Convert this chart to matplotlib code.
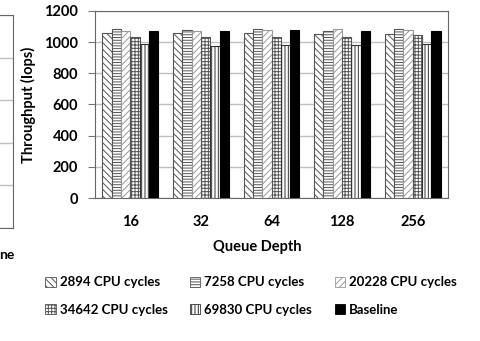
import numpy as np
import matplotlib.pyplot as plt
from matplotlib.patches import Patch

plt.rcParams['font.family'] = ['Lato', 'DejaVu Sans']
plt.rcParams['font.weight'] = 'bold'
plt.rcParams['hatch.linewidth'] = 0.7

depths = ['16', '32', '64', '128', '256']
labels = ['2894 CPU cycles', '7258 CPU cycles', '20228 CPU cycles',
          '34642 CPU cycles', '69830 CPU cycles', 'Baseline']

cyc_2894 = [1057, 1057, 1057, 1052, 1052]
cyc_7258 = [1082, 1076, 1082, 1070, 1082]
cyc_20228 = [1074, 1070, 1078, 1084, 1078]
cyc_34642 = [1031, 1031, 1031, 1031, 1044]
cyc_69830 = [988, 975, 982, 982, 988]
baseline = [1074, 1074, 1078, 1074, 1070]

series = [cyc_2894, cyc_7258, cyc_20228, cyc_34642, cyc_69830, baseline]
hatches = ['\\\\\\\\\\', '------', '/////', '+++++', '|||||', None]
faces = ['white'] * 5 + ['black']
edges = ['#555555', '#555555', '#999999', '#555555', '#333333', 'black']

W, H = 480, 341
fig = plt.figure(figsize=(W / 100, H / 100), dpi=100)

def px_axes(x0, y0, x1, y1):
    # axes placed by pixel box (top-left origin)
    return fig.add_axes([x0 / W, 1 - y1 / H, (x1 - x0) / W, (y1 - y0) / H])

# neighbouring panel cut off at the left edge
left = px_axes(-120, 15, 13, 228)
left.set_xlim(0, 1)
left.set_ylim(0, 5)
left.set_yticks(np.arange(0, 6))
left.grid(axis='y', color='#bfbfbf', linewidth=1)
left.tick_params(left=False, bottom=False, labelleft=False, labelbottom=False)
for s in left.spines.values():
    s.set_color('#666666')
fig.text(14 / W, 1 - 255 / H, 'ne', ha='right', va='center', fontsize=10, fontweight='bold')

ax = px_axes(95, 11, 448, 198)
x = np.arange(len(depths))
w = 0.132
for j, vals in enumerate(series):
    ax.bar(x + (j - 2.5) * w, vals, width=w, color=faces[j], edgecolor=edges[j],
           hatch=hatches[j], linewidth=0.8, zorder=3)

ax.set_xlim(-0.5, len(depths) - 0.5)
ax.set_ylim(0, 1200)
ax.set_yticks(np.arange(0, 1201, 200))
ax.set_xticks(x)
ax.set_xticklabels(depths)
ax.grid(axis='y', color='#bfbfbf', linewidth=1, zorder=0)
ax.tick_params(axis='y', length=5, color='#777777', pad=7, labelsize=10.5)
ax.tick_params(axis='x', length=0, pad=12, labelsize=10.5)
for s in ax.spines.values():
    s.set_color('#666666')
ax.set_ylabel('Throughput (Iops)', fontsize=10.5, fontweight='bold', labelpad=6)

fig.text(257 / W, 1 - 247 / H, 'Queue Depth', ha='center', va='center',
         fontsize=10.5, fontweight='bold')

handles = [Patch(facecolor=faces[j], edgecolor=edges[j], hatch=hatches[j], linewidth=0.6)
           for j in range(len(labels))]
# legend fills column by column, so interleave to read row by row
order = [0, 3, 1, 4, 2, 5]
fig.legend([handles[i] for i in order], [labels[i] for i in order], ncol=3,
           loc='center', bbox_to_anchor=(251 / W, 1 - 296 / H),
           frameon=False, fontsize=9.5, handlelength=0.8, handleheight=0.8,
           handletextpad=0.3, columnspacing=1.7, labelspacing=1.15)

fig.savefig('out.png', dpi=100)
